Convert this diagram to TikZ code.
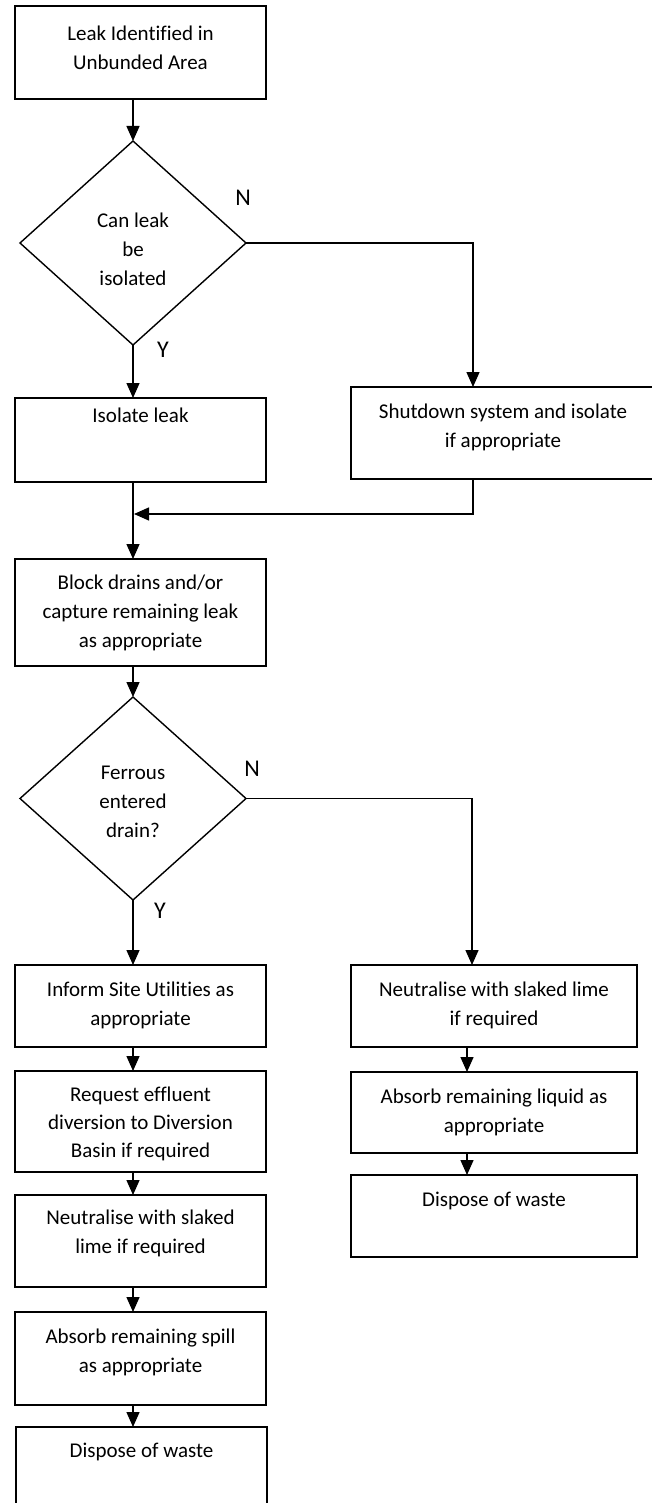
\documentclass[tikz,border=0pt]{standalone}
\usepackage{fontspec}
\setmainfont{Carlito}[Ligatures=NoCommon]
\usetikzlibrary{arrows.meta,shapes.geometric}

\begin{document}
\begin{tikzpicture}[
  x=1pt, y=-1pt,
  every node/.style={inner sep=0pt, outer sep=0pt},
  box/.style={draw, rectangle, line width=1.6pt},
  decision/.style={draw, diamond, line width=1.4pt},
  txt/.style={align=center, font=\fontsize{21}{29}\selectfont},
  yn/.style={font=\fontsize{24}{28}\selectfont},
  arr/.style={line width=1.4pt, -{Triangle[length=15pt,width=13pt]}},
  link/.style={line width=1.4pt}
]
\useasboundingbox (0,0) rectangle (651,1503);

% ---- main (left) column ----
\node[box, minimum width=251pt, minimum height=93pt]  (start)   at (140.5,52.5) {};
\node[decision, minimum width=226pt, minimum height=204pt] (q1) at (133,243) {};
\node[box, minimum width=251pt, minimum height=84pt]  (isolate) at (140.5,440) {};
\node[box, minimum width=304pt, minimum height=92pt]  (shutdown) at (503,433) {};
\node[box, minimum width=251pt, minimum height=107pt] (block)   at (140.5,612.5) {};
\node[decision, minimum width=226pt, minimum height=203pt] (q2) at (133,798.5) {};
\node[box, minimum width=251pt, minimum height=82pt]  (inform)  at (140.5,1006) {};
\node[box, minimum width=251pt, minimum height=101pt] (request) at (140.5,1121.5) {};
\node[box, minimum width=251pt, minimum height=92pt]  (neutL)   at (140.5,1241) {};
\node[box, minimum width=251pt, minimum height=93pt]  (absorbL) at (140.5,1358.5) {};
\node[box, minimum width=251pt, minimum height=103pt] (disposeL) at (141.5,1478.5) {};

% ---- right column ----
\node[box, minimum width=286pt, minimum height=82pt] (neutR)    at (494,1006) {};
\node[box, minimum width=286pt, minimum height=81pt] (absorbR)  at (494,1112.5) {};
\node[box, minimum width=286pt, minimum height=82pt] (disposeR) at (494,1216) {};

% ---- texts ----
\node[txt] (t-start)   at (140.5,48)  {Leak Identified in\\Unbunded Area};
\node[txt] (t-q1)      at (133,249)   {Can leak\\be\\isolated};
\node[txt] (t-isolate) at (140.5,415) {Isolate leak};
\node[txt] (t-shut)    at (503,427)   {Shutdown system and isolate\\if appropriate};
\node[txt] (t-block)   at (140.5,613) {Block drains and/or\\capture remaining leak\\as appropriate};
\node[txt] (t-q2)      at (133,802)   {Ferrous\\entered\\drain?};
\node[txt] (t-inform)  at (140.5,1005){Inform Site Utilities as\\appropriate};
\node[txt, font=\fontsize{21}{28}\selectfont] (t-request) at (140.5,1124) {Request effluent\\diversion to Diversion\\Basin if required};
\node[txt] (t-neutL)   at (140.5,1233){Neutralise with slaked\\lime if required};
\node[txt] (t-absorbL) at (140.5,1352){Absorb remaining spill\\as appropriate};
\node[txt] (t-dispL)   at (141.5,1452){Dispose of waste};
\node[txt] (t-neutR)   at (494,1005)  {Neutralise with slaked lime\\if required};
\node[txt] (t-absorbR) at (494,1112)  {Absorb remaining liquid as\\appropriate};
\node[txt] (t-dispR)   at (494,1201)  {Dispose of waste};

% ---- branch labels ----
\node[yn] (n1) at (243,198) {N};
\node[yn] (y1) at (163,350) {Y};
\node[yn] (n2) at (252,769) {N};
\node[yn] (y2) at (160,911) {Y};

% ---- connectors ----
\coordinate (merge) at (133,514);
\draw[arr] (q1.north |- start.south) -- (q1.north);
\draw[arr] (q1.south) -- (q1.south |- isolate.north);
\draw[arr] (q1.east) -| ([xshift=-30pt]shutdown.north);
\draw[arr] ([xshift=-30pt]shutdown.south) |- ([xshift=1pt]merge);
\draw[arr] (q1.south |- isolate.south) -- (q1.south |- block.north);
\draw[arr] (q2.north |- block.south) -- (q2.north);
\draw[arr] (q2.south) -- (q2.south |- inform.north);
\draw[arr] (q2.south |- inform.south) -- (q2.south |- request.north);
\draw[arr] (q2.south |- request.south) -- (q2.south |- neutL.north);
\draw[arr] (q2.south |- neutL.south) -- (q2.south |- absorbL.north);
\draw[arr] (q2.south |- absorbL.south) -- (q2.south |- disposeL.north);
\draw[arr] (q2.east) -| ([xshift=-22pt]neutR.north);
\draw[arr] ([xshift=-27pt]neutR.south) -- ([xshift=-27pt]absorbR.north);
\draw[arr] ([xshift=-27pt]absorbR.south) -- ([xshift=-27pt]disposeR.north);
\end{tikzpicture}
\end{document}
